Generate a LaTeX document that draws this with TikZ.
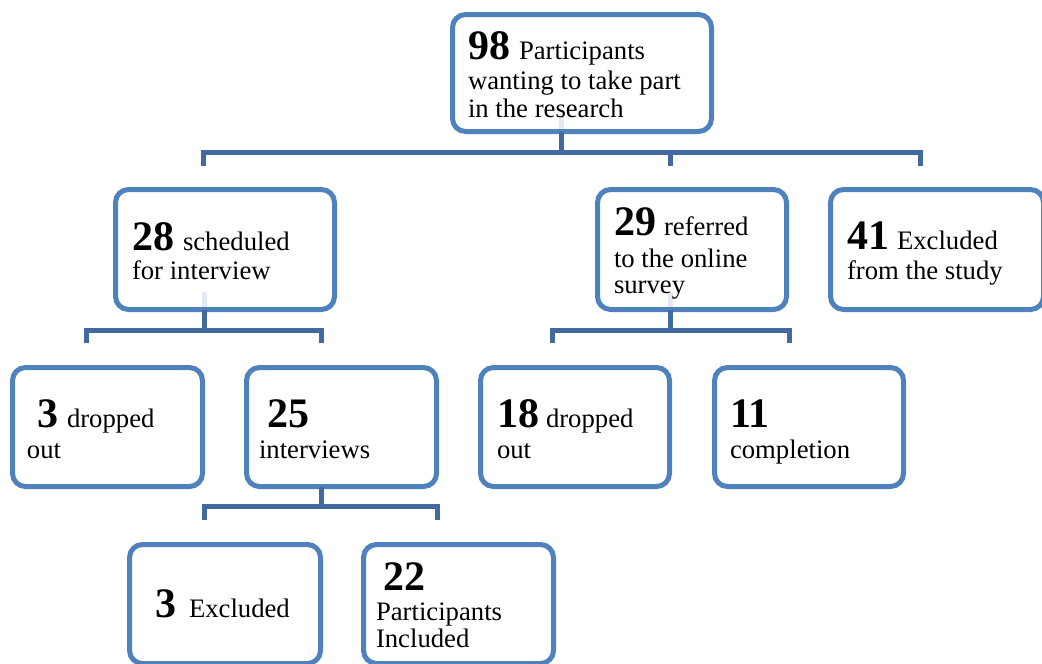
\documentclass[tikz,border=0pt]{standalone}
\usepackage{fontspec}
\setmainfont{Liberation Serif}
\definecolor{boxblue}{RGB}{79,129,189}
\definecolor{linkblue}{RGB}{66,106,160}
\definecolor{ghostblue}{RGB}{226,233,242}
\newcommand{\bnum}[1]{{\fontsize{42}{42}\selectfont\bfseries #1}}
\tikzset{
  box/.style={draw=boxblue, line width=5pt, rounded corners=13pt, fill=white, inner sep=0pt, outer sep=0pt},
  link/.style={draw=linkblue, line width=5pt},
  ghost/.style={draw=ghostblue, line width=5pt},
  txt/.style={anchor=base west, inner sep=0pt, outer sep=0pt, font=\fontsize{26.7}{30}\selectfont}
}
\begin{document}
\begin{tikzpicture}[x=1pt,y=-1pt]
\useasboundingbox (0,0) rectangle (1042,664);
\clip (0,0) rectangle (1042,664);

% boxes
\node[box, minimum width=259pt, minimum height=117pt] (b98) at (582,73) {};
\node[box, minimum width=219pt, minimum height=120pt] (b28) at (225,249.5) {};
\node[box, minimum width=189pt, minimum height=120pt] (b29) at (692,249.5) {};
\node[box, minimum width=213pt, minimum height=120pt] (b41) at (937,249.5) {};
\node[box, minimum width=190pt, minimum height=119pt] (b3d) at (107.5,427) {};
\node[box, minimum width=190pt, minimum height=119pt] (b25) at (341.5,427) {};
\node[box, minimum width=189pt, minimum height=119pt] (b18) at (575,427) {};
\node[box, minimum width=189pt, minimum height=119pt] (b11) at (809,427) {};
\node[box, minimum width=191pt, minimum height=119pt] (b3e) at (225,604) {};
\node[box, minimum width=190pt, minimum height=119pt] (b22) at (458.5,604) {};

% faint stems inside boxes
\draw[ghost] (561,114) -- (561,129);
\draw[ghost] (204,292) -- (204,307);
\draw[ghost] (670,292) -- (670,307);

% level 1 connector
\coordinate (s1) at (561,152);
\coordinate (d1a) at (203,166);
\coordinate (d1b) at (670,166);
\coordinate (d1c) at (920,166);
\draw[link] (b98.south -| s1) -- (s1);
\draw[link] (d1a) -- (d1a |- s1) -- (d1c |- s1) -- (d1c);
\draw[link] (d1b |- s1) -- (d1b);

% connector under 28
\coordinate (s2) at (204,330);
\coordinate (d2a) at (86,343);
\coordinate (d2b) at (321,343);
\draw[link] (b28.south -| s2) -- (s2);
\draw[link] (d2a) -- (d2a |- s2) -- (d2b |- s2) -- (d2b);

% connector under 29
\coordinate (s3) at (670,330);
\coordinate (d3a) at (552,343);
\coordinate (d3b) at (789,343);
\draw[link] (b29.south -| s3) -- (s3);
\draw[link] (d3a) -- (d3a |- s3) -- (d3b |- s3) -- (d3b);

% connector under 25
\coordinate (s4) at (321,506);
\coordinate (d4a) at (204,520);
\coordinate (d4b) at (437,520);
\draw[link] (b25.south -| s4) -- (s4);
\draw[link] (d4a) -- (d4a |- s4) -- (d4b |- s4) -- (d4b);

% texts
\node[txt] (t98a) at (468,59) {\bnum{98}\hspace{9pt}Participants};
\node[txt] (t98b) at (468,89) {wanting to take part};
\node[txt] (t98c) at (468,117) {in the research};

\node[txt] (t28a) at (132,250) {\bnum{28}\hspace{9pt}scheduled};
\node[txt] (t28b) at (132,279) {for interview};

\node[txt] (t29a) at (614,235) {\bnum{29}\hspace{8pt}referred};
\node[txt] (t29b) at (614,267) {to the online};
\node[txt] (t29c) at (614,293) {survey};

\node[txt] (t41a) at (847,249) {\bnum{41}\hspace{8pt}Excluded};
\node[txt] (t41b) at (847,279) {from the study};

\node[txt] (t3da) at (37,427) {\bnum{3}\hspace{9pt}dropped};
\node[txt] (t3db) at (27,458) {out};

\node[txt] (t25a) at (267,427) {\bnum{25}};
\node[txt] (t25b) at (259,458) {interviews};

\node[txt] (t18a) at (497,427) {\bnum{18}\hspace{7pt}dropped};
\node[txt] (t18b) at (497,458) {out};

\node[txt] (t11a) at (730,427) {\bnum{11}};
\node[txt] (t11b) at (730,458) {completion};

\node[txt] (t3ea) at (155,617) {\bnum{3}\hspace{13pt}Excluded};

\node[txt] (t22a) at (383,590) {\bnum{22}};
\node[txt] (t22b) at (376,620) {Participants};
\node[txt] (t22c) at (376,647) {Included};
\end{tikzpicture}
\end{document}
